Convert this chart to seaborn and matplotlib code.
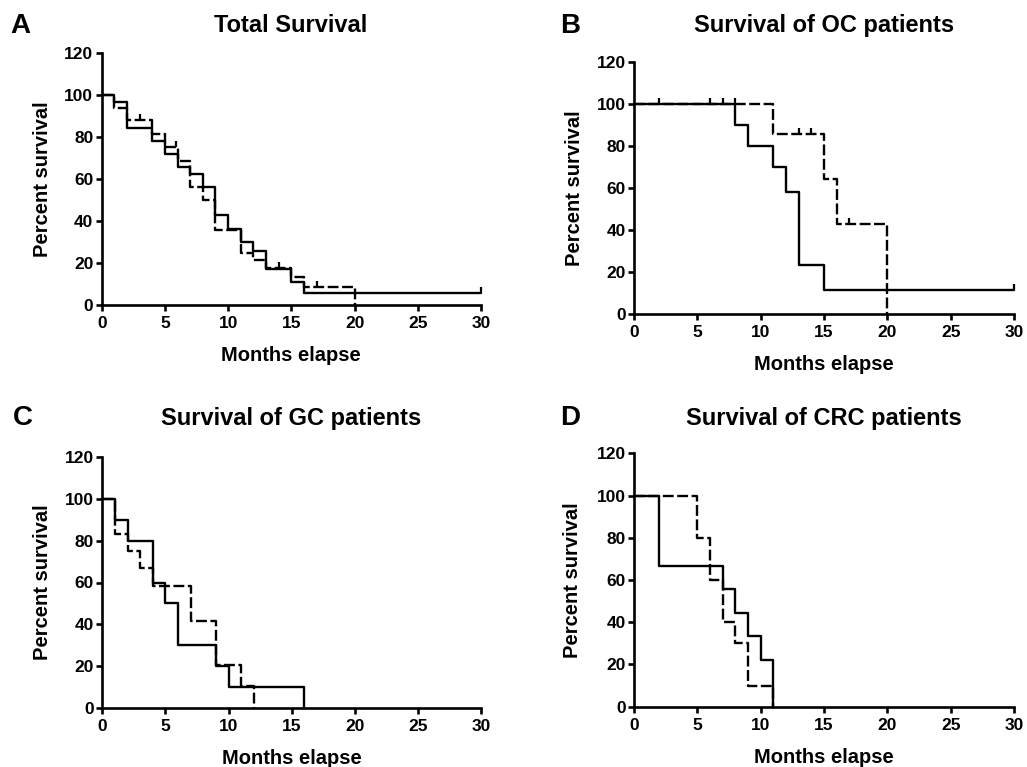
import numpy as np
import pandas as pd
import matplotlib
matplotlib.use("Agg")
import matplotlib.pyplot as plt
import seaborn as sns
from matplotlib.markers import TICKUP

# ---------------- data ----------------
x_ticks = [0, 5, 10, 15, 20, 25, 30]
y_ticks = [0, 20, 40, 60, 80, 100, 120]

letters = ["A", "B", "C", "D"]
titles = ["Total Survival", "Survival of OC patients",
          "Survival of GC patients", "Survival of CRC patients"]

# Panel A - total
a_solid_t = [0, 1, 2, 4, 5, 6, 7, 8, 9, 10, 11, 12, 13, 15, 16, 30]
a_solid_s = [100, 96.9, 84.4, 78.1, 71.9, 65.6, 62.5, 56.3, 43.0, 36.0, 30.0, 25.7, 17.2, 11.1, 5.6, 5.6]
a_solid_cens = [30]
a_dash_t = [0, 1, 2, 4, 5, 6, 7, 8, 9, 11, 12, 13, 15, 16, 20]
a_dash_s = [100, 93.8, 88.2, 81.4, 75.5, 68.7, 56.4, 50.0, 35.8, 24.6, 21.4, 17.5, 13.5, 8.7, 0]
a_dash_cens = [3, 5.9, 14, 17]

# Panel B - OC
b_solid_t = [0, 8, 9, 11, 12, 13, 15, 30]
b_solid_s = [100, 90, 80, 70, 58.3, 23.3, 11.7, 11.7]
b_solid_cens = [30]
b_dash_t = [0, 11, 15, 16, 20]
b_dash_s = [100, 85.7, 64.3, 42.9, 0]
b_dash_cens = [2, 6, 7, 7.95, 13, 14, 17]

# Panel C - GC
c_solid_t = [0, 1, 2, 4, 5, 6, 9, 10, 16]
c_solid_s = [100, 90, 80, 60, 50, 30, 20, 10, 0]
c_solid_cens = []
c_dash_t = [0, 1, 2, 3, 4, 7, 9, 11, 12]
c_dash_s = [100, 83.3, 75, 66.7, 58.3, 41.7, 20.8, 10.4, 0]
c_dash_cens = []

# Panel D - CRC
d_solid_t = [0, 2, 7, 8, 9, 10, 11]
d_solid_s = [100, 66.7, 55.6, 44.4, 33.3, 22.2, 0]
d_solid_cens = []
d_dash_t = [0, 5, 6, 7, 8, 9, 11]
d_dash_s = [100, 80, 60, 40, 30, 10, 0]
d_dash_cens = []

series = [
    (a_solid_t, a_solid_s, a_solid_cens, a_dash_t, a_dash_s, a_dash_cens),
    (b_solid_t, b_solid_s, b_solid_cens, b_dash_t, b_dash_s, b_dash_cens),
    (c_solid_t, c_solid_s, c_solid_cens, c_dash_t, c_dash_s, c_dash_cens),
    (d_solid_t, d_solid_s, d_solid_cens, d_dash_t, d_dash_s, d_dash_cens),
]

# ---------------- style ----------------
sns.set_theme(style="ticks")
plt.rcParams["font.family"] = ["Liberation Sans", "DejaVu Sans"]
plt.rcParams["font.weight"] = "bold"
plt.rcParams["axes.linewidth"] = 1.9

W, H = 1027, 767
fig = plt.figure(figsize=(W / 100, H / 100), dpi=100)
fig.patch.set_facecolor("white")


def box(l, r, t, b):
    return [l / W, 1 - b / H, (r - l) / W, (b - t) / H]


# layout in pixels: (left, right, top, bottom)
axes_px = [(101.7, 481, 53.3, 305), (634, 1014, 61.7, 314.3),
           (102.3, 481, 456.7, 708.3), (634, 1014, 453.3, 706.7)]
title_px = [(291, 32), (824, 32), (291, 425), (824, 425)]
letter_px = [(10, 33), (560, 33), (13, 425), (560, 425)]
ylabel_px = [(42.5, 179), (574.5, 188), (42.5, 582.5), (572, 580)]

LW = 1.7
DASH = (0, (4.6, 1.5))


def step_value(t, s, x):
    i = np.searchsorted(np.asarray(t), x, side="right") - 1
    return s[i]


for k in range(4):
    l, r, t, b = axes_px[k]
    ax = fig.add_axes(box(l, r, t, b))
    ax.set_facecolor("white")
    st, ss, sc, dt, ds, dc = series[k]

    sns.lineplot(x=st, y=ss, ax=ax, color="black", lw=LW, drawstyle="steps-post",
                 estimator=None, sort=False, clip_on=False)
    sns.lineplot(x=dt, y=ds, ax=ax, color="black", lw=LW, drawstyle="steps-post",
                 estimator=None, sort=False, linestyle=DASH, clip_on=False)

    # censor ticks
    for tt, ssv, cc in ((st, ss, sc), (dt, ds, dc)):
        if cc:
            yy = [step_value(tt, ssv, c) for c in cc]
            ax.plot(cc, yy, linestyle="none", marker=TICKUP, markersize=4.5,
                    markeredgewidth=1.6, color="black", clip_on=False)

    ax.set_xlim(0, 30)
    ax.set_ylim(0, 120)
    ax.set_xticks(x_ticks)
    ax.set_yticks(y_ticks)
    ax.set_xlabel("")
    ax.set_ylabel("")
    sns.despine(ax=ax)
    for sp in ("left", "bottom"):
        ax.spines[sp].set_color("black")
        ax.spines[sp].set_linewidth(1.9)
    ax.tick_params(axis="both", which="major", direction="out", length=4.5,
                   width=1.9, color="black", labelsize=12.5, labelcolor="black")
    ax.tick_params(axis="x", pad=3.5)
    ax.tick_params(axis="y", pad=1.5)
    for lab in ax.get_xticklabels() + ax.get_yticklabels():
        lab.set_fontweight("bold")

    # texts
    tx, ty = title_px[k]
    fig.text(tx / W, 1 - ty / H, titles[k], ha="center", va="baseline",
             fontsize=17, fontweight="bold", color="black")
    lx, ly = letter_px[k]
    fig.text(lx / W, 1 - ly / H, letters[k], ha="left", va="baseline",
             fontsize=20, fontweight="bold", color="black")
    yx, yy = ylabel_px[k]
    fig.text(yx / W, 1 - yy / H, "Percent survival", ha="center", va="center",
             rotation=90, fontsize=14.5, fontweight="bold", color="black")
    fig.text(((l + r) / 2) / W, 1 - (b + 56) / H, "Months elapse", ha="center",
             va="baseline", fontsize=14.5, fontweight="bold", color="black")

fig.savefig("out.png", dpi=100, facecolor="white")
